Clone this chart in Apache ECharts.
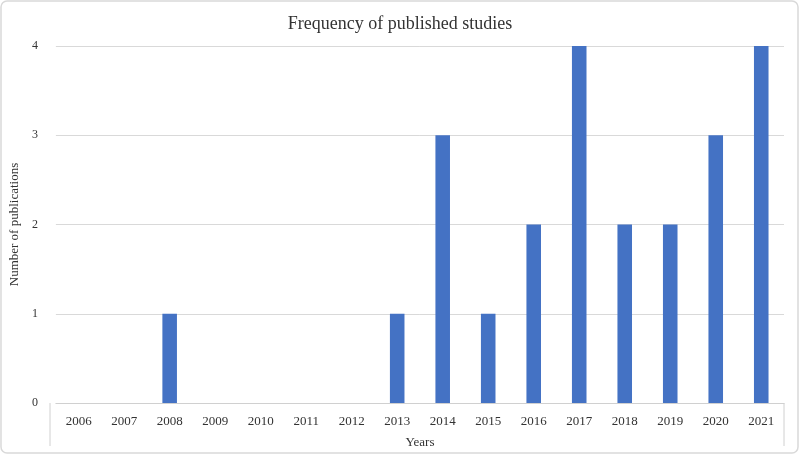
<!DOCTYPE html><html><head><meta charset="utf-8"><script src="https://cdn.jsdelivr.net/npm/echarts@6/dist/echarts.min.js"></script></head><body style="margin:0"><div id="c" style="width:800px;height:455px"></div><script>
const years=['2006','2007','2008','2009','2010','2011','2012','2013','2014','2015','2016','2017','2018','2019','2020','2021'];
const counts=[0,0,1,0,0,0,0,1,3,1,2,4,2,2,3,4];
const f='Liberation Serif';
const ch=echarts.init(document.getElementById('c'));
const L=50,R=16,T=46,B=52;
ch.setOption({
title:{text:'Frequency of published studies',left:'center',top:10,textStyle:{fontFamily:f,fontSize:18,fontWeight:'normal',color:'#333'}},
grid:{left:L,right:R,top:T,bottom:B},
xAxis:{type:'category',data:years,name:'Years',nameLocation:'middle',nameGap:33,nameTextStyle:{fontFamily:f,fontSize:13,color:'#333'},
axisLine:{lineStyle:{color:'#d0d0d0'}},axisTick:{show:false},axisLabel:{fontFamily:f,fontSize:13,color:'#333',margin:12}},
yAxis:{type:'value',min:0,max:4,interval:1,name:'Number of publications',nameLocation:'middle',nameGap:28,nameTextStyle:{fontFamily:f,fontSize:13,color:'#333'},
axisLabel:{fontFamily:f,fontSize:12,color:'#333',margin:18},splitLine:{lineStyle:{color:'#d9d9d9'}},axisLine:{show:false},axisTick:{show:false}},
series:[{type:'bar',data:counts,barWidth:'32%',itemStyle:{color:'#4472c4'}}],
graphic:[
{type:'rect',shape:{x:1,y:1,width:797,height:452,r:6},style:{fill:'none',stroke:'#d9d9d9',lineWidth:1.5}},
{type:'line',shape:{x1:L,y1:455-B,x2:L,y2:446},style:{stroke:'#d0d0d0'}},
{type:'line',shape:{x1:800-R,y1:455-B,x2:800-R,y2:446},style:{stroke:'#d0d0d0'}}
]});
</script></body></html>
